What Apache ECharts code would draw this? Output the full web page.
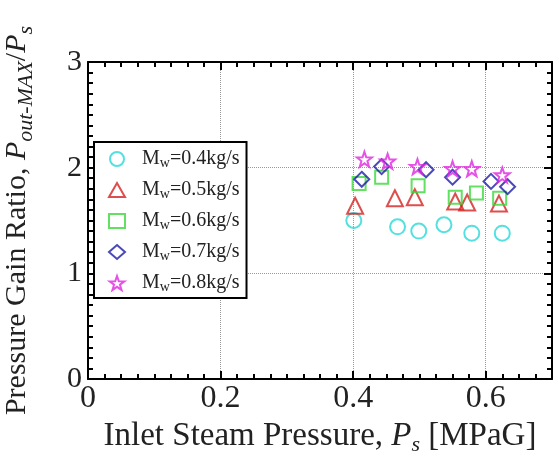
<!DOCTYPE html>
<html>
<head>
<meta charset="utf-8">
<script src="https://cdn.jsdelivr.net/npm/echarts@6/dist/echarts.min.js"></script>
<style>
  html, body { margin: 0; padding: 0; background: #fff; }
  #chart { width: 554px; height: 454px; }
</style>
</head>
<body>
<div id="chart"></div>
<script>
// Data
const seriesNames = ['0.4', '0.5', '0.6', '0.7', '0.8'];
const mw04 = [[0.401, 1.50], [0.467, 1.44], [0.499, 1.40], [0.537, 1.46], [0.579, 1.38], [0.625, 1.38]];
const mw05 = [[0.403, 1.64], [0.463, 1.71], [0.493, 1.72], [0.554, 1.68], [0.572, 1.67], [0.620, 1.66]];
const mw06 = [[0.409, 1.85], [0.443, 1.91], [0.498, 1.83], [0.554, 1.72], [0.586, 1.76], [0.621, 1.71]];
const mw07 = [[0.413, 1.89], [0.443, 2.01], [0.510, 1.98], [0.550, 1.91], [0.608, 1.87], [0.633, 1.82]];
const mw08 = [[0.417, 2.08], [0.452, 2.06], [0.497, 2.01], [0.550, 1.99], [0.579, 1.99], [0.625, 1.93]];
const xTicks = [0, 0.2, 0.4, 0.6];
const yTicks = [0, 1, 2, 3];

const starPath = 'path://M0,-10L2.35,-3.24L9.51,-3.09L3.8,1.24L5.88,8.09L0,4L-5.88,8.09L-3.8,1.24L-9.51,-3.09L-2.35,-3.24Z';
const symbols = ['circle', 'triangle', 'rect', 'diamond', starPath];
const sizes = [15, 16, 13, 15, 15];
const colors = ['#2ad8d8', '#d42222', '#3ad83a', '#1c1ca8', '#e025e0'];
const allData = [mw04, mw05, mw06, mw07, mw08];

const serif = 'Liberation Serif, Times New Roman, serif';

const chart = echarts.init(document.getElementById('chart'));

function makeAxis(type, pos, show) {
    const isX = type === 'x';
    return {
        type: 'value',
        position: pos,
        min: 0,
        max: isX ? 0.7 : 3,
        interval: isX ? 0.2 : 1,
        axisLine: { show: true, onZero: false, lineStyle: { color: '#000', width: 2 } },
        axisTick: { show: true, inside: true, length: 8, lineStyle: { color: '#000', width: 2 } },
        minorTick: { show: true, splitNumber: isX ? 8 : 10, length: 5, lineStyle: { color: '#000', width: 2 } },
        splitLine: { show: show, lineStyle: { color: '#999', type: 'dotted', width: 1 } },
        axisLabel: {
            show: show,
            fontFamily: serif,
            fontSize: isX ? 32 : 30,
            color: '#222',
            margin: isX ? 4 : 6,
            formatter: function (v) {
                const list = isX ? xTicks : yTicks;
                return list.some(t => Math.abs(t - v) < 1e-9) ? String(v) : '';
            }
        }
    };
}

const xMain = makeAxis('x', 'bottom', true);
xMain.name = '{t|Inlet Steam Pressure, }{i|P}{sub|s}{t| [MPaG]}';
xMain.nameLocation = 'middle';
xMain.nameGap = 29;
xMain.nameTextStyle = {
    rich: {
        t: { fontFamily: serif, fontSize: 33, color: '#222', lineHeight: 40 },
        i: { fontFamily: serif, fontSize: 33, fontStyle: 'italic', color: '#222', lineHeight: 40 },
        sub: { fontFamily: serif, fontSize: 22, fontStyle: 'italic', color: '#222', lineHeight: 16, verticalAlign: 'bottom' }
    }
};

const yMain = makeAxis('y', 'left', true);
yMain.name = '{t|Pressure Gain Ratio, }{i|P}{sub|out-MAX}{t|/}{i|P}{sub|s}';
yMain.nameLocation = 'middle';
yMain.nameRotate = 90;
yMain.nameGap = 51;
yMain.nameTextStyle = {
    rich: {
        t: { fontFamily: serif, fontSize: 30, color: '#222', lineHeight: 40 },
        i: { fontFamily: serif, fontSize: 30, fontStyle: 'italic', color: '#222', lineHeight: 40 },
        sub: { fontFamily: serif, fontSize: 22, fontStyle: 'italic', color: '#222', lineHeight: 16, verticalAlign: 'bottom' }
    }
};

const series = allData.map((d, i) => ({
    name: seriesNames[i],
    type: 'scatter',
    xAxisIndex: 0,
    yAxisIndex: 0,
    symbol: symbols[i],
    symbolSize: sizes[i],
    data: d,
    itemStyle: { color: 'rgba(255,255,255,0)', borderColor: colors[i], borderWidth: 2 }
}));

const option = {
    animation: false,
    backgroundColor: '#fff',
    grid: { left: 88, right: 2, top: 62, bottom: 75, containLabel: false, outerBoundsMode: 'none' },
    xAxis: [xMain, makeAxis('x', 'top', false)],
    yAxis: [yMain, makeAxis('y', 'right', false)],
    legend: {
        orient: 'vertical',
        left: 94,
        top: 142,
        backgroundColor: '#fff',
        borderColor: '#000',
        borderWidth: 2,
        padding: [7, 7, 4, 14],
        itemGap: 10,
        itemWidth: 16,
        itemHeight: 14,
        data: seriesNames.map((n, i) => ({
            name: n,
            icon: symbols[i],
            itemStyle: { color: 'rgba(255,255,255,0)', borderColor: colors[i], borderWidth: 2 }
        })),
        formatter: function (name) {
            return '{m|M}{s|w}{e|=' + name + 'kg/s}';
        },
        textStyle: {
            rich: {
                m: { fontFamily: serif, fontSize: 20, color: '#222', lineHeight: 22, padding: [0, 0, 0, 12] },
                s: { fontFamily: serif, fontSize: 14, color: '#222', lineHeight: 10, verticalAlign: 'bottom' },
                e: { fontFamily: serif, fontSize: 20, color: '#222', lineHeight: 22 }
            }
        }
    },
    series: series
};

chart.setOption(option);
</script>
</body>
</html>
